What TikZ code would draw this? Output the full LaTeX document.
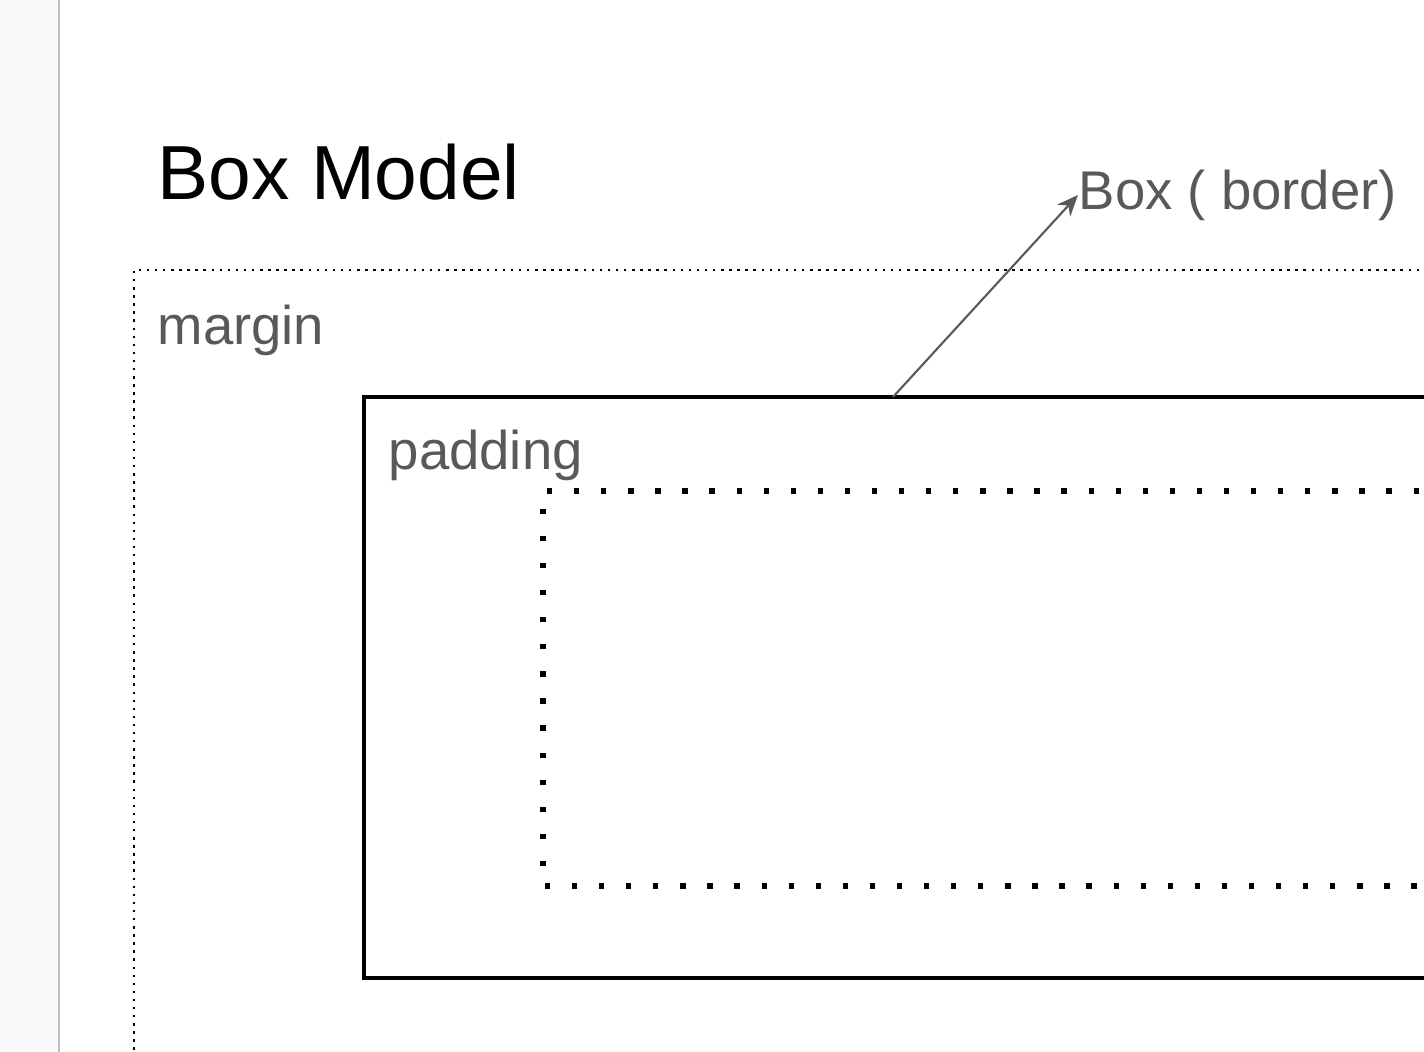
\documentclass[tikz,border=0pt]{standalone}
\usepackage{fontspec}
\setmainfont{Liberation Sans}
\usetikzlibrary{arrows.meta}
\definecolor{labelgray}{HTML}{595959}
\definecolor{stripgray}{HTML}{F8F9FA}
\begin{document}
\begin{tikzpicture}[x=0.01cm,y=-0.01cm]
    % Define styles
    \tikzset{
        boxlabel/.style={text=labelgray, font=\fontsize{15.5}{18}\selectfont, inner sep=0pt, anchor=base west},
        marginline/.style={draw=black, line width=0.6pt, dash pattern=on 0.7pt off 1.6pt},
        paddingline/.style={draw=black, line width=1.5pt, dash pattern=on 1.5pt off 6.2pt},
        borderline/.style={draw=black, line width=1.4pt}
    }
    \useasboundingbox (0,0) rectangle (1424,1052);
    \clip (0,0) rectangle (1424,1052);
    % Side strip
    \fill[stripgray] (0,0) rectangle (59,1052);
    \draw[gray!50, line width=0.6pt] (59,0) -- (59,1052);
    % Title
    \node[anchor=base west, inner sep=0pt, font=\fontsize{21.8}{26}\selectfont] (title) at (157,200) {Box Model};
    % Margin, border and padding
    \draw[marginline] (1500,270) -- (134,270) -- (134,1100);
    \node[boxlabel] (margin) at (157,345) {margin};
    \draw[borderline] (1500,397) -- (364,397) -- (364,978) -- (1500,978);
    \node[boxlabel] (padding) at (388,470) {padding};
    \draw[paddingline] (1500,491) -- (543,491) -- (543,886) -- (1500,886);
    % Label with arrow
    \coordinate (bordertop) at (893,397);
    \node[text=labelgray, font=\fontsize{15.5}{18}\selectfont, inner sep=0pt, anchor=west] (boxlabel) at (1078,195) {Box ( border)};
    \draw[labelgray, line width=0.6pt, -{Stealth[length=6pt,width=5pt]}] (bordertop) -- (boxlabel.west);
\end{tikzpicture}
\end{document}
